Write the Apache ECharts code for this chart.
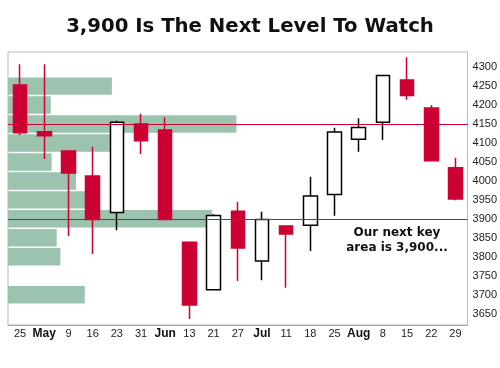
<!DOCTYPE html>
<html><head><meta charset="utf-8">
<script src="https://cdn.jsdelivr.net/npm/echarts@6/dist/echarts.min.js"></script>
<style>html,body{margin:0;padding:0;background:#fff}#c{width:500px;height:368px}</style>
</head><body><div id="c"></div>
<script>
// weekly S&P 500 candles
const weeks = ['2022-04-25','2022-05-02','2022-05-09','2022-05-16','2022-05-23','2022-05-31','2022-06-06','2022-06-13','2022-06-21','2022-06-27','2022-07-05','2022-07-11','2022-07-18','2022-07-25','2022-08-01','2022-08-08','2022-08-15','2022-08-22','2022-08-29'];
const tickLabels = ['25','May','9','16','23','31','Jun','13','21','27','Jul','11','18','25','Aug','8','15','22','29'];
const openP  = [4253,4130,4079,4013,3917,4150,4134,3838,3713,3920,3789,3881,3883,3964,4110,4155,4266,4192,4035];
const closeP = [4127,4119,4021,3898,4155,4106,3898,3673,3909,3823,3898,3860,3960,4129,4141,4278,4225,4053,3952];
const lowP   = [4121,4058,3855,3807,3870,4071,3897,3636,3712,3736,3738,3718,3815,3908,4077,4108,4214,4052,3949];
const highP  = [4308,4308,4080,4090,4159,4177,4167,3839,3912,3945,3919,3882,4011,4140,4165,4280,4326,4200,4061];
const priceTicks = [3650,3700,3750,3800,3850,3900,3950,4000,4050,4100,4150,4200,4250,4300];
// volume-at-price profile (relative units)
const profileLevels = [4250,4200,4150,4100,4050,4000,3950,3900,3850,3800,3750,3700];
const profileVolume = [22.6,9.3,49.7,24.1,9.5,14.8,16.9,44.4,10.6,11.4,0,16.7];
const resistanceLevel = 4150;
const supportLevel = 3900;
const titleText = '3,900 Is The Next Level To Watch';
const noteText = 'Our next key\narea is 3,900...';

const RED = '#cc0033';
const chart = echarts.init(document.getElementById('c'));
chart.setOption({
  animation: false,
  backgroundColor: '#fff',
  title: {
    text: titleText, left: 'center', top: 17, padding: 0,
    textStyle: {fontFamily: 'DejaVu Sans', fontWeight: 'bold', fontSize: 19.7, color: '#111'}
  },
  grid: {left: 8, right: 31.5, top: 52, bottom: 43, show: true, borderColor: '#bbbbbb', borderWidth: 1, backgroundColor: 'transparent'},
  xAxis: [{
    type: 'category', data: weeks, boundaryGap: true,
    axisLine: {show: true, lineStyle: {color: '#aaaaaa'}},
    axisTick: {show: false},
    axisLabel: {
      interval: 0, margin: 3,
      formatter: (v, i) => isNaN(+tickLabels[i]) ? '{b|' + tickLabels[i] + '}' : '{n|' + tickLabels[i] + '}',
      rich: {
        b: {fontFamily: 'Liberation Sans', fontWeight: 'bold', fontSize: 12, color: '#111'},
        n: {fontFamily: 'Liberation Sans', fontSize: 11, color: '#222'}
      }
    },
    splitLine: {show: false}
  }, {
    type: 'value', min: 0, max: 100, show: false, splitLine: {show: false}
  }],
  yAxis: [{
    type: 'value', position: 'right', min: 3620, max: 4340, scale: true,
    axisLine: {show: false}, axisTick: {show: false}, splitLine: {show: false},
    axisLabel: {customValues: priceTicks, margin: 5, formatter: v => String(v), fontFamily: 'Liberation Sans', fontSize: 11, color: '#222'}
  }],
  series: [{
    type: 'custom', xAxisIndex: 1, yAxisIndex: 0, z: 1,
    data: profileLevels.map((l, i) => [profileVolume[i], l]),
    encode: {x: 0, y: 1},
    renderItem: (params, api) => {
      const vol = api.value(0), lvl = api.value(1);
      const p1 = api.coord([0, lvl + 23]);
      const p2 = api.coord([vol, lvl - 23]);
      return {type: 'rect', shape: {x: p1[0], y: p1[1], width: p2[0] - p1[0], height: p2[1] - p1[1]}, style: {fill: '#9bc3ae'}};
    }
  }, {
    type: 'candlestick', xAxisIndex: 0, yAxisIndex: 0, z: 3,
    barWidth: 14,
    data: weeks.map((w, i) => [openP[i], closeP[i], lowP[i], highP[i]]),
    itemStyle: {color: '#ffffff', color0: RED, borderColor: '#000000', borderColor0: RED, borderWidth: 1.5},
    markLine: {
      silent: true, symbol: 'none', label: {show: false},
      data: [
        {yAxis: resistanceLevel, lineStyle: {color: RED, width: 1, type: 'solid', opacity: 1}},
        {yAxis: supportLevel, lineStyle: {color: '#0b7a0b', width: 1, type: 'solid', opacity: 1}}
      ]
    }
  }],
  graphic: [{
    type: 'text', x: 397, y: 226, z: 10,
    style: {text: noteText, font: 'bold 12px "DejaVu Sans"', textAlign: 'center', textVerticalAlign: 'top', lineHeight: 14.7, fill: '#111'}
  }]
});
</script></body></html>
